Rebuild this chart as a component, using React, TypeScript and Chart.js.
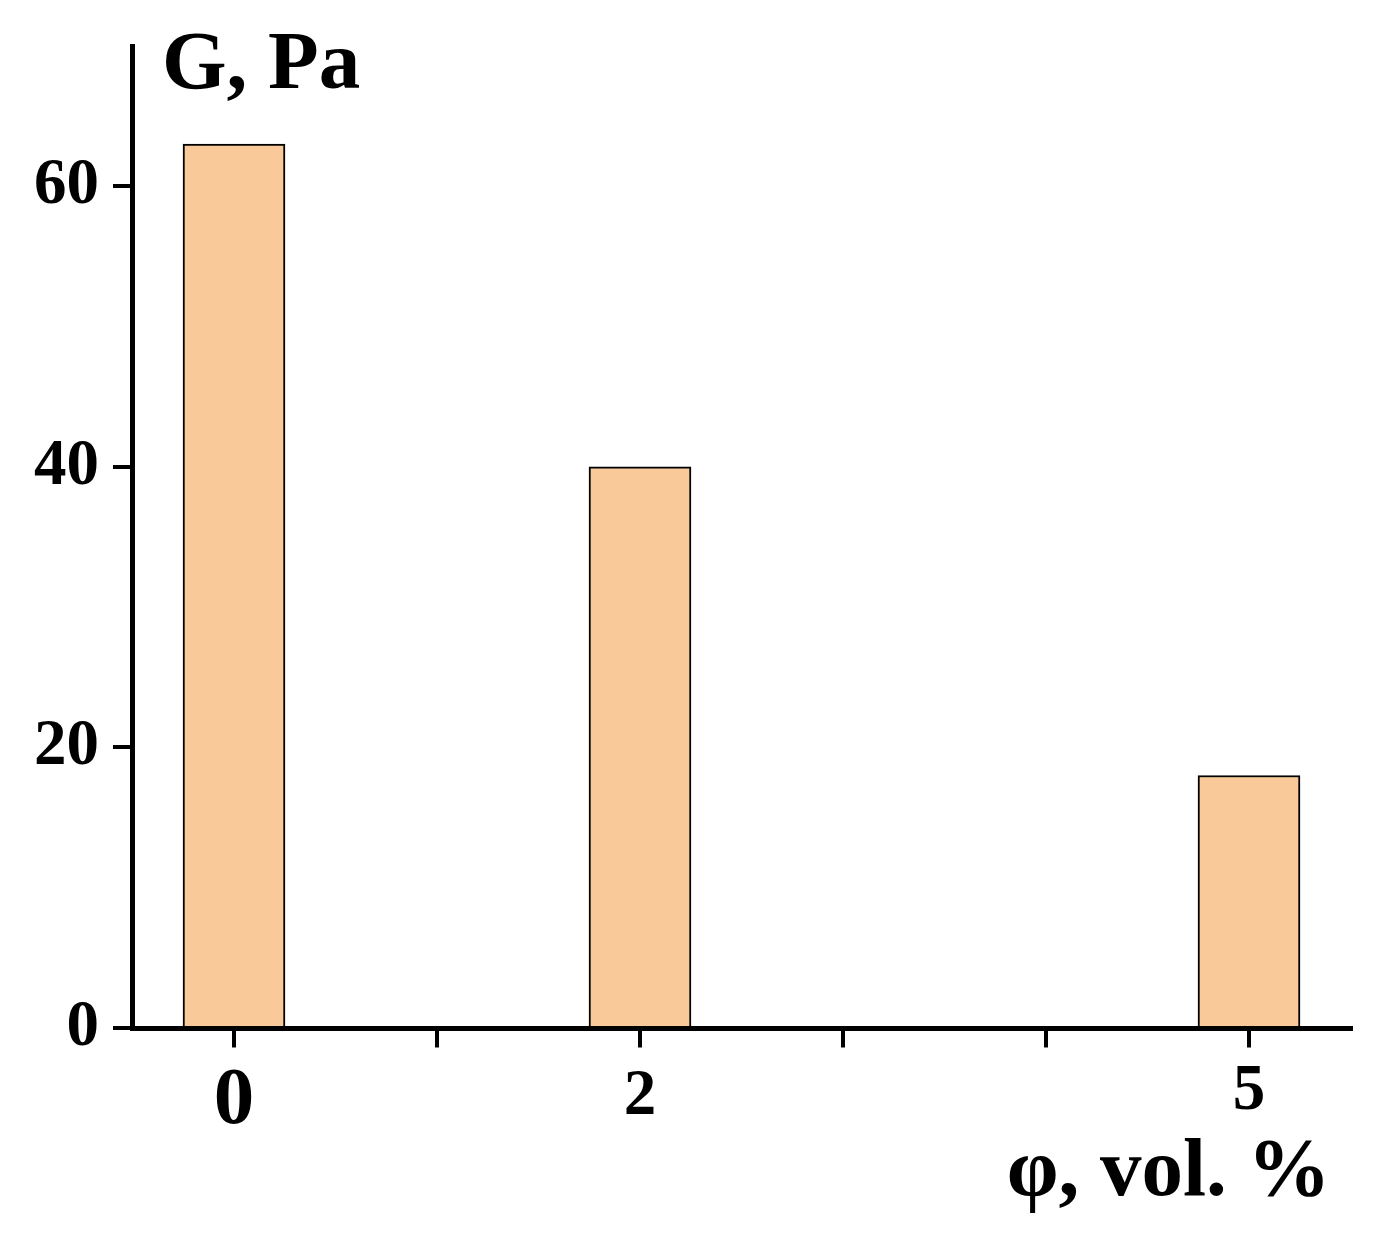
import React, { useEffect, useRef } from "react";
import { Chart, registerables } from "chart.js";

Chart.register(...registerables);

// ---- data ----
const CATEGORIES = [0, 2, 5]; // φ, vol. %
const G_VALUES = [63, 40, 18]; // G, Pa
const X_TICKS = [0, 1, 2, 3, 4, 5];
const Y_TICKS = [0, 20, 40, 60];
const Y_TITLE = "G, Pa";
const X_TITLE = "φ, vol. %";

const FONT_FAMILY = "'Liberation Serif', 'Times New Roman', serif";

const titlePlugin = {
  id: "axisTitles",
  afterDraw(chart: any) {
    const { ctx, chartArea } = chart;
    ctx.save();
    ctx.fillStyle = "#000";
    ctx.font = `bold 83px ${FONT_FAMILY}`;
    ctx.textBaseline = "alphabetic";
    ctx.textAlign = "left";
    ctx.fillText(Y_TITLE, chartArea.left + 29.5, chartArea.top + 41.5);
    ctx.textAlign = "right";
    ctx.fillText(X_TITLE, chartArea.right - 20, chartArea.bottom + 167);
    ctx.restore();
  },
};

export default function App() {
  const canvasRef = useRef<HTMLCanvasElement | null>(null);

  useEffect(() => {
    const canvas = canvasRef.current;
    if (!canvas) return;
    const chart = new Chart(canvas, {
      type: "bar",
      data: {
        datasets: [
          {
            data: CATEGORIES.map((x, i) => ({ x, y: G_VALUES[i] })),
            backgroundColor: "#FAC999",
            borderColor: "#000",
            borderWidth: 2,
            barThickness: 102,
          },
        ],
      },
      options: {
        responsive: false,
        animation: false,
        devicePixelRatio: 1,
        layout: { padding: { top: 46, right: 46.5, bottom: 0, left: 0 } },
        plugins: {
          legend: { display: false },
          tooltip: { enabled: false },
        },
        scales: {
          x: {
            type: "linear",
            position: "bottom",
            min: -0.5,
            max: 5.5,
            offset: false,
            afterBuildTicks: (s: any) => {
              s.ticks = X_TICKS.map((v) => ({ value: v }));
            },
            afterFit: (s: any) => {
              s.height = 211;
              s.paddingLeft = 0;
              s.paddingRight = 0;
            },
            grid: {
              display: true,
              offset: false,
              drawOnChartArea: false,
              drawTicks: true,
              tickLength: 19.5,
              color: "#000",
              lineWidth: 4,
            },
            border: { display: true, color: "#000", width: 5, z: 1 },
            ticks: {
              autoSkip: false,
              maxRotation: 0,
              minRotation: 0,
              padding: 10.5,
              color: "#000",
              callback: (v: any) => (CATEGORIES.includes(Number(v)) ? String(v) : ""),
              font: (ctx: any) => {
                const v = ctx.tick ? ctx.tick.value : 1;
                if (v === 0) return { family: FONT_FAMILY, weight: "bold", size: 81, lineHeight: 1.1 };
                if (v === 5) return { family: FONT_FAMILY, weight: "bold", size: 65, lineHeight: 1.06 };
                return { family: FONT_FAMILY, weight: "bold", size: 65, lineHeight: 1.2 };
              },
            },
          },
          y: {
            type: "linear",
            min: 0,
            max: 70,
            afterBuildTicks: (s: any) => {
              s.ticks = Y_TICKS.map((v) => ({ value: v }));
            },
            afterFit: (s: any) => {
              s.width = 132.5;
              s.paddingTop = 0;
              s.paddingBottom = 0;
            },
            grid: {
              display: true,
              drawOnChartArea: false,
              drawTicks: true,
              tickLength: 19.5,
              color: "#000",
              lineWidth: 4,
            },
            border: { display: true, color: "#000", width: 5, z: 1 },
            ticks: {
              padding: 14,
              color: "#000",
              font: { family: FONT_FAMILY, weight: "bold", size: 65, lineHeight: 1.2 },
            },
          },
        },
      } as any,
      plugins: [titlePlugin],
    });
    return () => chart.destroy();
  }, []);

  return (
    <div
      style={{
        position: "absolute",
        left: 0,
        top: 0,
        width: 1397,
        height: 1239,
        background: "#fff",
      }}
    >
      <canvas ref={canvasRef} width={1397} height={1239} style={{ display: "block" }} />
    </div>
  );
}
